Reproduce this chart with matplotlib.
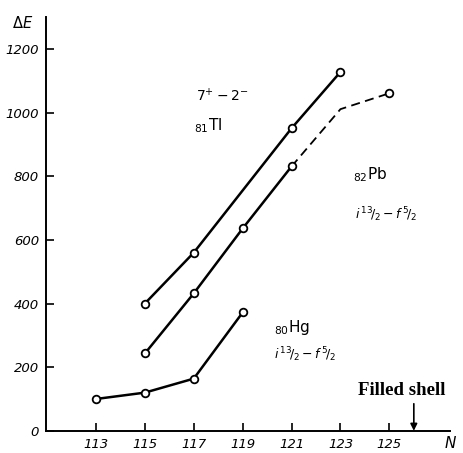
import matplotlib

matplotlib.use("Agg")
import matplotlib.pyplot as plt

# neutron number N and level spacing (keV)
tl_n = [115, 117, 121, 123]
tl_de = [400, 560, 951, 1128]

pb_n_solid = [115, 117, 119, 121]
pb_de_solid = [243, 432, 636, 831]
pb_n_dash = [121, 123, 125]
pb_de_dash = [831, 1011, 1061]

hg_n = [113, 115, 117, 119]
hg_de = [100, 120, 164, 372]

x_ticks = [113, 115, 117, 119, 121, 123, 125]
y_ticks = [0, 200, 400, 600, 800, 1000, 1200]
filled_shell_n = 126

LABEL_FONT = dict(family=["DejaVu Sans"], style="italic")
MARK = dict(marker="o", markersize=5.5, markerfacecolor="white",
            markeredgecolor="black", markeredgewidth=1.3)

fig = plt.figure(figsize=(4.63, 4.53), dpi=100)
ax = fig.add_axes([0.099, 0.049, 0.874, 0.913])

ax.plot(tl_n, tl_de, color="black", lw=1.8, **MARK)
ax.plot(pb_n_dash, pb_de_dash, color="black", lw=1.3, dashes=(5, 3))
ax.plot(pb_n_dash[-1:], pb_de_dash[-1:], ls="none", **MARK)
ax.plot(pb_n_solid, pb_de_solid, color="black", lw=1.8, **MARK)
ax.plot(hg_n, hg_de, color="black", lw=1.8, **MARK)

ax.set_xlim(110.95, 127.5)
ax.set_ylim(0, 1300)
for side in ("top", "right"):
    ax.spines[side].set_visible(False)
for side in ("left", "bottom"):
    ax.spines[side].set_linewidth(1.4)

ax.set_xticks(x_ticks)
ax.set_yticks(y_ticks)
ax.set_xticklabels([str(t) for t in x_ticks], fontsize=9.5, **LABEL_FONT)
ax.set_yticklabels([str(t) for t in y_ticks], fontsize=9.5, **LABEL_FONT)
ax.tick_params(axis="both", direction="in", length=6, width=1.2, pad=5)

ax.text(-0.03, 0.985, r"$\Delta E$", transform=ax.transAxes, ha="right",
        va="center", fontsize=10.5, **LABEL_FONT)
ax.text(1.0, -0.03, "N", transform=ax.transAxes, ha="center", va="center",
        fontsize=11, **LABEL_FONT)

ax.text(117.1, 1035, r"$7^{+}-2^{-}$", fontsize=10, **LABEL_FONT)
ax.text(117.0, 945, r"$_{81}$Tl", fontsize=11)
ax.text(123.5, 790, r"$_{82}$Pb", fontsize=11)
ax.text(123.6, 665, r"$i\,^{13}\!/_{2}-f\,^{5}\!/_{2}$", fontsize=9, **LABEL_FONT)
ax.text(120.3, 310, r"$_{80}$Hg", fontsize=11)
ax.text(120.3, 225, r"$i\,^{13}\!/_{2}-f\,^{5}\!/_{2}$", fontsize=9, **LABEL_FONT)

ax.text(filled_shell_n - 0.5, 100, "Filled shell", fontsize=13.5,
        family=["Liberation Serif", "DejaVu Serif"], fontweight="bold",
        ha="center", va="bottom")
ax.annotate("", xy=(filled_shell_n, 0), xytext=(filled_shell_n, 85),
            arrowprops=dict(arrowstyle="-|>", color="black", lw=1.2,
                            mutation_scale=10, shrinkA=0, shrinkB=0))

fig.savefig("out.png", dpi=100)
